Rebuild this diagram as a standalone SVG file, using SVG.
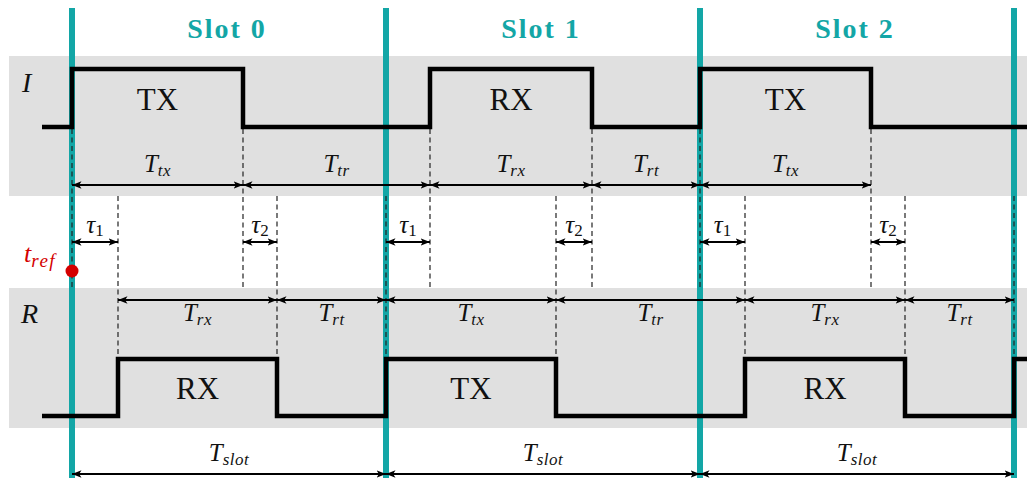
<svg xmlns="http://www.w3.org/2000/svg" width="1027" height="478" viewBox="0 0 1027 478">
  <style>
    .band { fill: #e0e0e0; }
    .slotline { stroke: #13a6a6; stroke-width: 6; }
    .wave { fill: none; stroke: #000; stroke-width: 4.5; stroke-linejoin: miter; stroke-linecap: butt; }
    .guide { stroke: #222; stroke-width: 1.2; stroke-dasharray: 5 3.5; }
    .arrow { stroke: #000; stroke-width: 1.8; marker-start: url(#ah); marker-end: url(#ah); }
    .slotlabel { font-family: "Liberation Serif", serif; font-weight: bold; font-size: 28px; letter-spacing: 2px; fill: #13a6a6; text-anchor: middle; }
    .state { font-family: "Liberation Serif", serif; font-size: 31px; fill: #111; text-anchor: middle; }
    .sig { font-family: "Liberation Serif", serif; font-style: italic; font-size: 28px; fill: #111; }
    .dur { font-family: "Liberation Serif", serif; font-style: italic; font-size: 25px; fill: #111; text-anchor: middle; }
    .dur .sub { font-size: 17px; letter-spacing: 0.5px; }
    .tau { font-family: "Liberation Serif", serif; font-style: italic; font-size: 25px; fill: #111; text-anchor: middle; }
    .tau .sub { font-style: normal; font-size: 17px; }
    .ref { font-family: "Liberation Serif", serif; font-style: italic; font-size: 26px; fill: #d40000; }
  </style>
  <defs>
    <marker id="ah" viewBox="0 0 10 8" refX="10" refY="4" markerWidth="9.5" markerHeight="8" markerUnits="userSpaceOnUse" orient="auto-start-reverse">
      <path d="M0,0 L10,4 L0,8 L2.5,4 z" fill="#000"/>
    </marker>
  </defs>

  <!-- signal bands -->
  <g id="bands">
    <rect class="band" x="9" y="56" width="1018" height="140"/>
    <rect class="band" x="9" y="288" width="1018" height="140"/>
  </g>

  <!-- slot boundaries -->
  <g id="slot-boundaries">
    <line class="slotline" x1="72" y1="8" x2="72" y2="478"/>
    <line class="slotline" x1="386" y1="8" x2="386" y2="478"/>
    <line class="slotline" x1="700" y1="8" x2="700" y2="478"/>
    <line class="slotline" x1="1014" y1="8" x2="1014" y2="478"/>
  </g>

  <!-- dashed guides: initiator edges down to the R band, responder edges up from the I band -->
  <g id="guides">
    <line class="guide" x1="72" y1="129" x2="72" y2="288"/>
    <line class="guide" x1="243" y1="129" x2="243" y2="288"/>
    <line class="guide" x1="430" y1="129" x2="430" y2="288"/>
    <line class="guide" x1="592" y1="129" x2="592" y2="288"/>
    <line class="guide" x1="700" y1="129" x2="700" y2="288"/>
    <line class="guide" x1="871" y1="129" x2="871" y2="288"/>
    <line class="guide" x1="118" y1="196" x2="118" y2="357"/>
    <line class="guide" x1="277" y1="196" x2="277" y2="357"/>
    <line class="guide" x1="386" y1="196" x2="386" y2="357"/>
    <line class="guide" x1="556" y1="196" x2="556" y2="357"/>
    <line class="guide" x1="745" y1="196" x2="745" y2="357"/>
    <line class="guide" x1="905" y1="196" x2="905" y2="357"/>
    <line class="guide" x1="1014" y1="196" x2="1014" y2="357"/>
  </g>

  <!-- waveforms -->
  <g id="node-initiator">
    <path class="wave" d="M42,127 H72 V69 H243 V127 H430 V69 H592 V127 H700 V69 H871 V127 H1027"/>
    <text class="sig" x="22" y="92">I</text>
    <text class="state" x="157.5" y="110">TX</text>
    <text class="state" x="511" y="110">RX</text>
    <text class="state" x="785.5" y="110">TX</text>
  </g>
  <g id="node-responder">
    <path class="wave" d="M42,416 H118 V359 H277 V416 H386 V359 H556 V416 H745 V359 H905 V416 H1014 V359 H1027"/>
    <text class="sig" x="21" y="323">R</text>
    <text class="state" x="197.5" y="399">RX</text>
    <text class="state" x="471" y="399">TX</text>
    <text class="state" x="825" y="399">RX</text>
  </g>

  <!-- slot titles -->
  <g id="slot-titles">
    <text class="slotlabel" x="227" y="38">Slot 0</text>
    <text class="slotlabel" x="541" y="38">Slot 1</text>
    <text class="slotlabel" x="855" y="38">Slot 2</text>
  </g>

  <!-- duration arrows -->
  <g id="connectors">
    <line class="arrow" x1="72" y1="185" x2="243" y2="185"/>
    <line class="arrow" x1="243" y1="185" x2="430" y2="185"/>
    <line class="arrow" x1="430" y1="185" x2="592" y2="185"/>
    <line class="arrow" x1="592" y1="185" x2="700" y2="185"/>
    <line class="arrow" x1="700" y1="185" x2="871" y2="185"/>

    <line class="arrow" x1="72" y1="242" x2="118" y2="242"/>
    <line class="arrow" x1="243" y1="242" x2="277" y2="242"/>
    <line class="arrow" x1="386" y1="242" x2="430" y2="242"/>
    <line class="arrow" x1="556" y1="242" x2="592" y2="242"/>
    <line class="arrow" x1="700" y1="242" x2="745" y2="242"/>
    <line class="arrow" x1="871" y1="242" x2="905" y2="242"/>

    <line class="arrow" x1="118" y1="300" x2="277" y2="300"/>
    <line class="arrow" x1="277" y1="300" x2="386" y2="300"/>
    <line class="arrow" x1="386" y1="300" x2="556" y2="300"/>
    <line class="arrow" x1="556" y1="300" x2="745" y2="300"/>
    <line class="arrow" x1="745" y1="300" x2="905" y2="300"/>
    <line class="arrow" x1="905" y1="300" x2="1014" y2="300"/>

    <line class="arrow" x1="72" y1="474" x2="386" y2="474"/>
    <line class="arrow" x1="386" y1="474" x2="700" y2="474"/>
    <line class="arrow" x1="700" y1="474" x2="1014" y2="474"/>
  </g>

  <!-- duration labels -->
  <g id="labels">
    <text class="dur" x="157.5" y="172">T<tspan class="sub" dy="4">tx</tspan></text>
    <text class="dur" x="336.5" y="172">T<tspan class="sub" dy="4">tr</tspan></text>
    <text class="dur" x="511" y="172">T<tspan class="sub" dy="4">rx</tspan></text>
    <text class="dur" x="646" y="172">T<tspan class="sub" dy="4">rt</tspan></text>
    <text class="dur" x="785.5" y="172">T<tspan class="sub" dy="4">tx</tspan></text>

    <text class="tau" x="95" y="233">τ<tspan class="sub" dy="3">1</tspan></text>
    <text class="tau" x="260" y="233">τ<tspan class="sub" dy="3">2</tspan></text>
    <text class="tau" x="408" y="233">τ<tspan class="sub" dy="3">1</tspan></text>
    <text class="tau" x="574" y="233">τ<tspan class="sub" dy="3">2</tspan></text>
    <text class="tau" x="722.5" y="233">τ<tspan class="sub" dy="3">1</tspan></text>
    <text class="tau" x="888" y="233">τ<tspan class="sub" dy="3">2</tspan></text>

    <text class="dur" x="197.5" y="321">T<tspan class="sub" dy="4">rx</tspan></text>
    <text class="dur" x="331.5" y="321">T<tspan class="sub" dy="4">rt</tspan></text>
    <text class="dur" x="471" y="321">T<tspan class="sub" dy="4">tx</tspan></text>
    <text class="dur" x="650.5" y="321">T<tspan class="sub" dy="4">tr</tspan></text>
    <text class="dur" x="825" y="321">T<tspan class="sub" dy="4">rx</tspan></text>
    <text class="dur" x="959.5" y="321">T<tspan class="sub" dy="4">rt</tspan></text>

    <text class="dur" x="229" y="461">T<tspan class="sub" dy="4">slot</tspan></text>
    <text class="dur" x="543" y="461">T<tspan class="sub" dy="4">slot</tspan></text>
    <text class="dur" x="857" y="461">T<tspan class="sub" dy="4">slot</tspan></text>
  </g>

  <!-- reference instant -->
  <g id="node-tref">
    <circle cx="72" cy="271" r="6.5" fill="#d40000"/>
    <text class="ref" x="24" y="262">t<tspan font-size="19" letter-spacing="1.5" dy="5">ref</tspan></text>
  </g>
</svg>
